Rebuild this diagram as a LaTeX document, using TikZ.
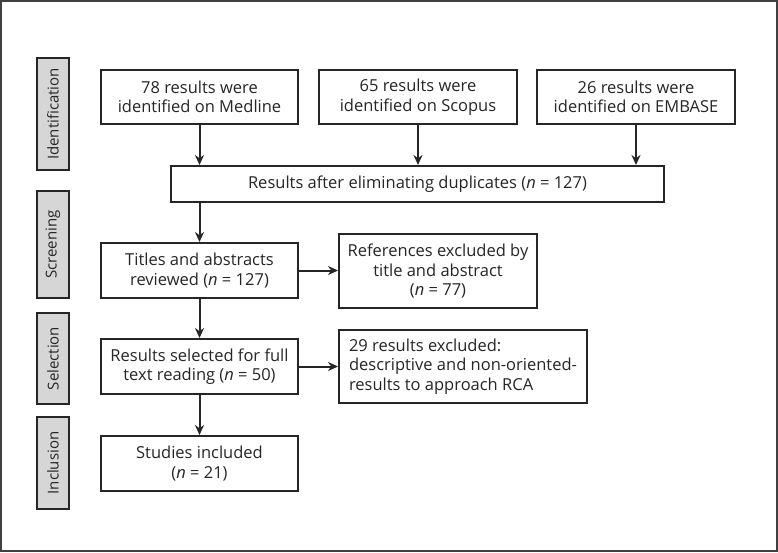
\documentclass[tikz,border=0pt]{standalone}
\usepackage{fontspec}
\setmainfont{Open Sans}
\usetikzlibrary{arrows.meta}
\begin{document}
\begin{tikzpicture}[x=1pt,y=-1pt,
  box/.style={draw=black!85,line width=2pt,fill=white,inner sep=0pt,align=center,
    font=\fontsize{16.5}{19.5}\selectfont,text=black!85},
  phase/.style={draw=black!85,line width=2pt,fill=black!16,inner sep=0pt,rotate=90,
    minimum height=32,font=\fontsize{15}{17}\selectfont,text=black!85},
  arr/.style={line width=2pt,draw=black!85,-{Stealth[length=10pt,width=9pt]}}]
\useasboundingbox (0,0) rectangle (778,552);
\draw[line width=1.4pt,draw=black!75] (1,1) rectangle (777,551);
% phases
\node[phase,minimum width=112] (pid) at (53,114) {Identification};
\node[phase,minimum width=107] (psc) at (53,244.5) {Screening};
\node[phase,minimum width=91] (pse) at (53,358.5) {Selection};
\node[phase,minimum width=92] (pin) at (53,463) {Inclusion};
% boxes
\node[box,minimum width=197,minimum height=54] (med) at (199.5,97) {78 results were\\identified on Medline};
\node[box,minimum width=198,minimum height=54] (sco) at (418,97) {65 results were\\identified on Scopus};
\node[box,minimum width=198,minimum height=54] (emb) at (636,97) {26 results were\\identified on EMBASE};
\node[box,minimum width=493,minimum height=36] (dup) at (417.5,184) {Results after eliminating duplicates (\textit{n} = 127)};
\node[box,minimum width=197,minimum height=55] (tit) at (199.5,270.5) {Titles and abstracts\\reviewed (\textit{n} = 127)};
\node[box,minimum width=198,minimum height=74] (ref) at (438,271) {References excluded by\\title and abstract\\(\textit{n} = 77)};
\node[box,minimum width=197,minimum height=55] (sel) at (199.5,366.5) {Results selected for full\\text reading (\textit{n} = 50)};
\node[box,minimum width=248,minimum height=73,align=left] (exc) at (463,366.5) {29 results excluded:\\descriptive and non-oriented-\\results to approach RCA};
\node[box,minimum width=197,minimum height=55] (stu) at (199.5,463.5) {Studies included\\(\textit{n} = 21)};
% arrows
\draw[arr] (med.south) -- (med.south |- dup.north);
\draw[arr] (sco.south) -- (sco.south |- dup.north);
\draw[arr] (emb.south) -- (emb.south |- dup.north);
\draw[arr] (dup.south -| tit.north) -- (tit.north);
\draw[arr] (tit.east) -- (tit.east -| ref.west);
\draw[arr] (tit.south) -- (sel.north);
\draw[arr] (sel.east) -- (sel.east -| exc.west);
\draw[arr] (sel.south) -- (stu.north);
\end{tikzpicture}
\end{document}
